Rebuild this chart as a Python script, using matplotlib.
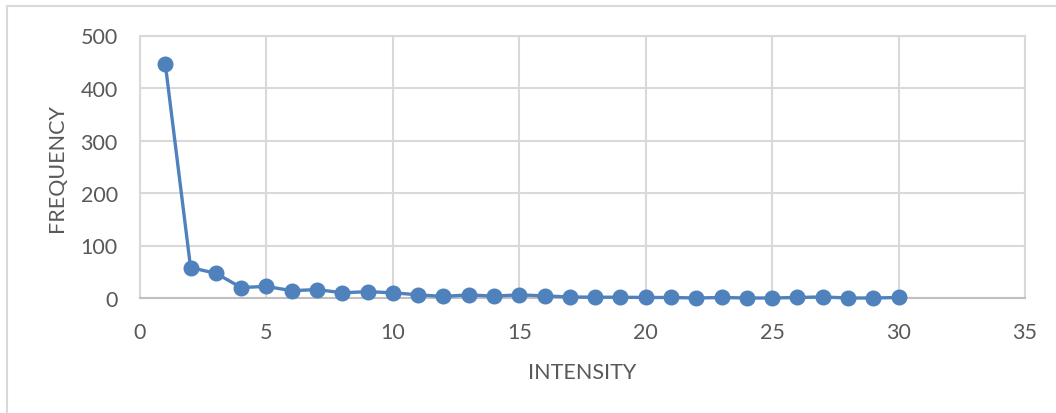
import matplotlib.pyplot as plt
from matplotlib.patches import Rectangle

plt.rcParams['font.family'] = ['Lato', 'DejaVu Sans']

intensity = list(range(1, 31))
frequency = [446, 58, 47, 20, 22, 14, 16, 10, 12, 10,
             6, 3, 6, 3.5, 6, 4, 2, 1.5, 1.5, 1,
             1, 0, 1, 0, 0, 1, 2, 0, 0, 1]

x_ticks = [0, 5, 10, 15, 20, 25, 30, 35]
y_ticks = [0, 100, 200, 300, 400, 500]

W, H = 1056, 414
fig = plt.figure(figsize=(W / 100, H / 100), dpi=100)
fig.patch.set_facecolor('white')

# outer chart frame
fig.patches.append(Rectangle((6.5 / W, -0.1), 1.2, (H - 6.5) / H + 0.1,
                             transform=fig.transFigure, fill=False,
                             edgecolor='#d9d9d9', linewidth=1.5))

left, right, top, bottom = 140, 1025, 36.5, 299
ax = fig.add_axes([left / W, 1 - bottom / H, (right - left) / W, (bottom - top) / H])

grid_col = '#d9d9d9'
text_col = '#595959'
line_col = '#4f81bd'

ax.plot(intensity, frequency, color=line_col, linewidth=2.4,
        marker='o', markersize=10.5, markerfacecolor=line_col,
        markeredgecolor=line_col, zorder=3, clip_on=False)

ax.set_xlim(0, 35)
ax.set_ylim(0, 500)
ax.set_xticks(x_ticks)
ax.set_yticks(y_ticks)
ax.grid(True, color=grid_col, linewidth=1.5)
ax.set_axisbelow(True)
for side in ['left', 'right', 'top']:
    ax.spines[side].set_color(grid_col)
    ax.spines[side].set_linewidth(1.5)
ax.spines['bottom'].set_color('#bfbfbf')
ax.spines['bottom'].set_linewidth(1.5)

ax.tick_params(length=0, labelsize=15.5, labelcolor=text_col)
ax.tick_params(axis='y', pad=16)
ax.tick_params(axis='x', pad=17)

ax.set_xlabel('INTENSITY', fontsize=15.5, color=text_col, labelpad=15)
ax.set_ylabel('FREQUENCY', fontsize=15.5, color=text_col, labelpad=10)

fig.savefig('out.png', dpi=100)
